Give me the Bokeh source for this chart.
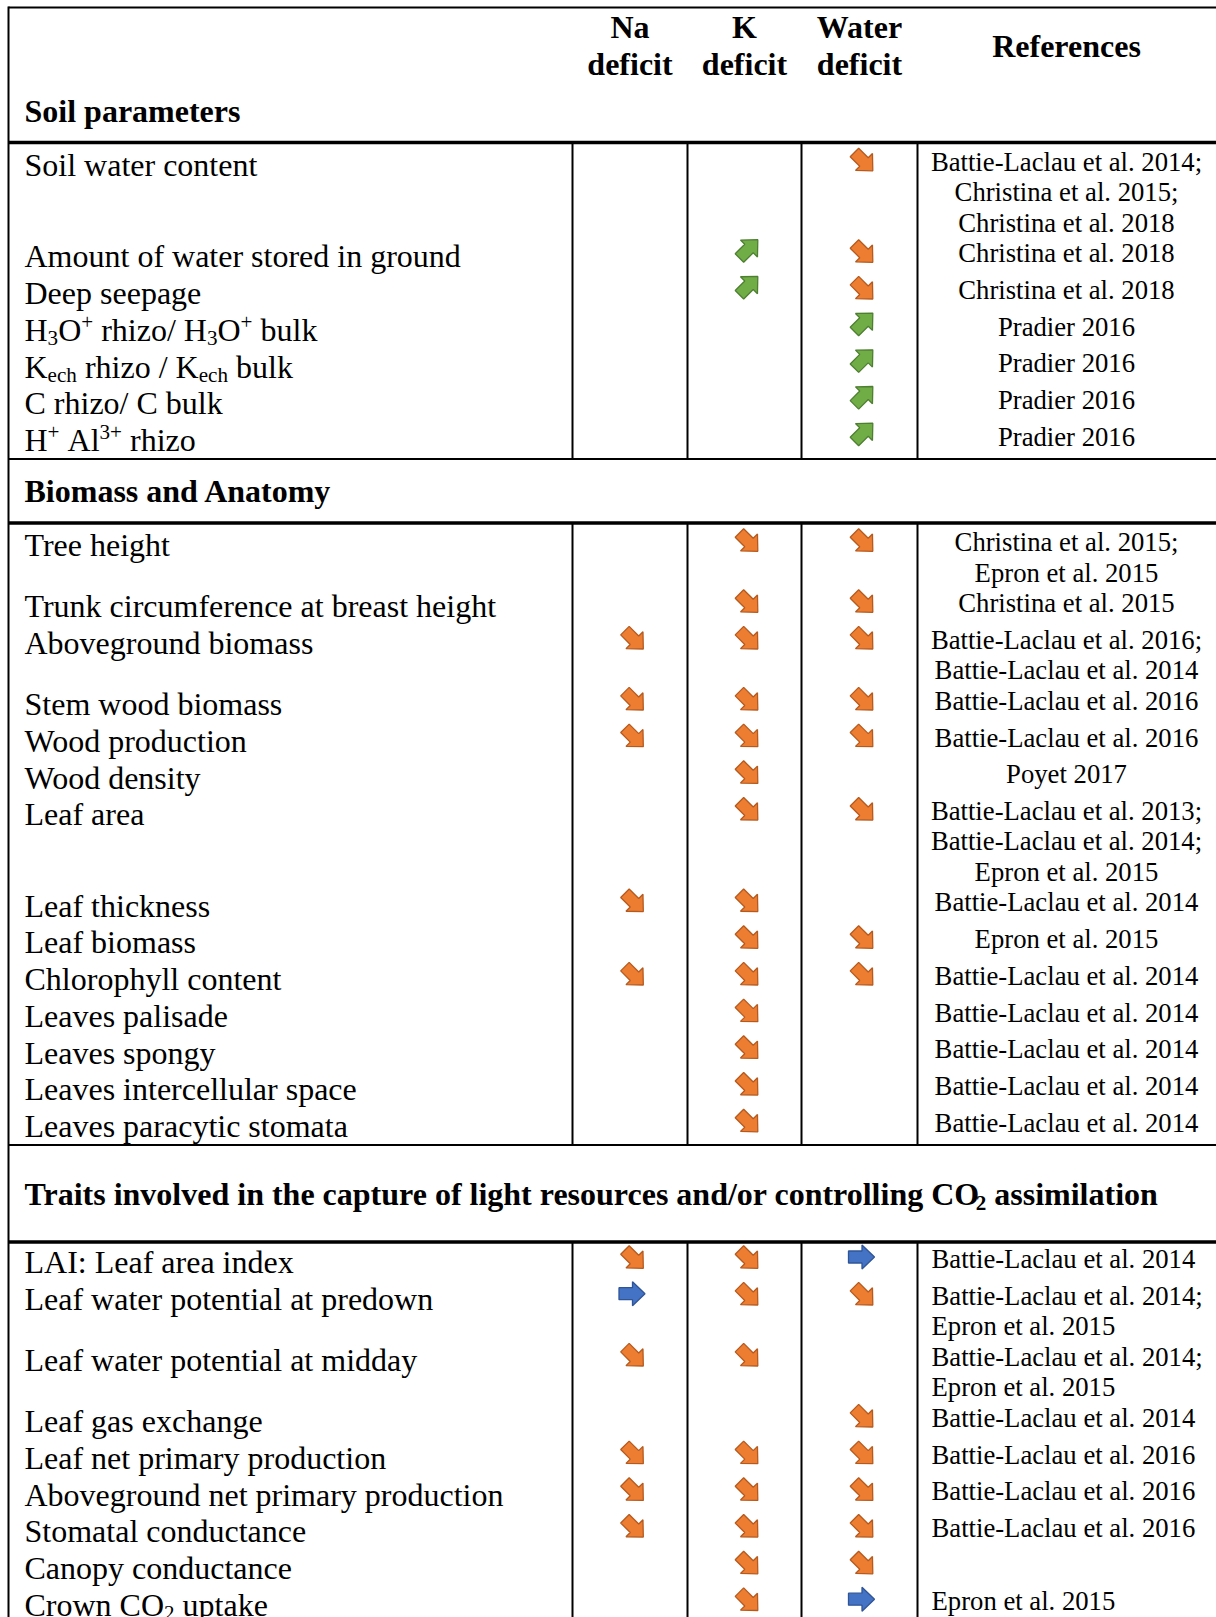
import math, re
from bokeh.plotting import figure
from bokeh.models import Range1d, ColumnDataSource
from bokeh.core.properties import value
from bokeh.embed import file_html
from bokeh.resources import INLINE

# ---------------- data ----------------
col_heads = ["Na", "K", "Water"]
col_head_sub = "deficit"
ref_head = "References"

section_titles = [
    "Soil parameters",
    "Biomass and Anatomy",
    "Traits involved in the capture of light resources and/or controlling CO_{2} assimilation",
]

soil_labels = ["Soil water content", "Amount of water stored in ground", "Deep seepage",
               "H_{3}O^{+} rhizo/ H_{3}O^{+} bulk", "K_{ech} rhizo / K_{ech} bulk",
               "C rhizo/ C bulk", "H^{+} Al^{3+} rhizo"]
soil_na = ["", "", "", "", "", "", ""]
soil_k = ["", "up", "up", "", "", "", ""]
soil_water = ["down", "down", "down", "up", "up", "up", "up"]
soil_refs = [["Battie-Laclau et al. 2014;", "Christina et al. 2015;", "Christina et al. 2018"],
             ["Christina et al. 2018"], ["Christina et al. 2018"],
             ["Pradier 2016"], ["Pradier 2016"], ["Pradier 2016"], ["Pradier 2016"]]

bio_labels = ["Tree height", "Trunk circumference at breast height", "Aboveground biomass",
              "Stem wood biomass", "Wood production", "Wood density", "Leaf area",
              "Leaf thickness", "Leaf biomass", "Chlorophyll content", "Leaves palisade",
              "Leaves spongy", "Leaves intercellular space", "Leaves paracytic stomata"]
bio_na = ["", "", "down", "down", "down", "", "", "down", "", "down", "", "", "", ""]
bio_k = ["down"] * 14
bio_water = ["down", "down", "down", "down", "down", "", "down", "", "down", "down", "", "", "", ""]
bio_refs = [["Christina et al. 2015;", "Epron et al. 2015"], ["Christina et al. 2015"],
            ["Battie-Laclau et al. 2016;", "Battie-Laclau et al. 2014"],
            ["Battie-Laclau et al. 2016"], ["Battie-Laclau et al. 2016"], ["Poyet 2017"],
            ["Battie-Laclau et al. 2013;", "Battie-Laclau et al. 2014;", "Epron et al. 2015"],
            ["Battie-Laclau et al. 2014"], ["Epron et al. 2015"], ["Battie-Laclau et al. 2014"],
            ["Battie-Laclau et al. 2014"], ["Battie-Laclau et al. 2014"],
            ["Battie-Laclau et al. 2014"], ["Battie-Laclau et al. 2014"]]

trait_labels = ["LAI: Leaf area index", "Leaf water potential at predown",
                "Leaf water potential at midday", "Leaf gas exchange",
                "Leaf net primary production", "Aboveground net primary production",
                "Stomatal conductance", "Canopy conductance", "Crown CO_{2} uptake"]
trait_na = ["down", "flat", "down", "", "down", "down", "down", "", ""]
trait_k = ["down", "down", "down", "", "down", "down", "down", "down", "down"]
trait_water = ["flat", "down", "", "down", "down", "down", "down", "down", "flat"]
trait_refs = [["Battie-Laclau et al. 2014"],
              ["Battie-Laclau et al. 2014;", "Epron et al. 2015"],
              ["Battie-Laclau et al. 2014;", "Epron et al. 2015"],
              ["Battie-Laclau et al. 2014"], ["Battie-Laclau et al. 2016"],
              ["Battie-Laclau et al. 2016"], ["Battie-Laclau et al. 2016"], [],
              ["Epron et al. 2015"]]

# ---------------- layout / style ----------------
W, H = 1216, 1617
FONT = "Liberation Serif"
FS_LABEL = 32
FS_REF = 26.7
FS_HEAD = 32
MID = 0.33           # visual centre above baseline, in em
LEFT = 8
TEXT_X = 24
COL_X = [572, 687, 801, 917]
RIGHT = W + 20
REF_CX = 1066
REF_LX = 931
TOP = 7
HEADER_BOTTOM = 142
ROW_H = 36.7
REF_LH = 30.5
FIRST_BASE = [33, 33, 31]
SEC_HEAD_H = [None, 64, 97]
SEC_TITLE_BASE = [None, 43, 60]
KERN = {False: 1.0, True: 0.991}

TR = {' ': 250, '+': 564, '/': 278, 'A': 722, 'B': 667, 'C': 667, 'H': 722, 'K': 722, 'O': 722,
      'a': 444, 'b': 500, 'c': 444, 'e': 444, 'h': 500, 'i': 278, 'k': 500, 'l': 278, 'o': 500,
      'r': 333, 'u': 500, 'z': 444, 'n': 500, 't': 278, 'w': 722, 'p': 500, 'g': 500, 'd': 500,
      'm': 778, 's': 389, 'y': 500, 'v': 500, 'f': 333}
TB = {' ': 250, '/': 278, 'C': 722, 'O': 778, 'T': 667, 'a': 500, 'c': 444, 'd': 556, 'e': 444,
      'f': 333, 'g': 500, 'h': 556, 'i': 278, 'l': 278, 'm': 833, 'n': 556, 'o': 500, 'p': 556,
      'r': 444, 's': 389, 't': 333, 'u': 556, 'v': 500, 'y': 500}
for d in "0123456789":
    TR[d] = 500
    TB[d] = 500


def text_width(s, size, bold):
    tab = TB if bold else TR
    return sum(tab.get(ch, 500) for ch in s) * size / 1000.0 * KERN[bold]


def rich_items(x0, baseline, s, size, bold):
    """Split 'a_{sub}b^{sup}' markup into positioned runs (x, centre-y, text, size)."""
    items = []
    x = x0
    for part in re.split(r"(_\{[^}]*\}|\^\{[^}]*\})", s):
        if not part:
            continue
        if part.startswith("_{"):
            t, fs, dy = part[2:-1], size * 0.66, size * 0.14
        elif part.startswith("^{"):
            t, fs, dy = part[2:-1], size * 0.66, -size * 0.36
        else:
            t, fs, dy = part, size, 0
        lead = len(t) - len(t.lstrip(" "))
        core = t.strip(" ")
        x += text_width(" " * lead, fs, bold)
        if core:
            items.append((x, baseline + dy - MID * fs, core, fs))
        x += text_width(t[lead:], fs, bold)
    return items


def arrow_poly(cx, cy, kind):
    L, hl, hw, sw = 26.0, 12.5, 12.0, 6.0
    pts = [(-L / 2, -sw), (L / 2 - hl, -sw), (L / 2 - hl, -hw), (L / 2, 0),
           (L / 2 - hl, hw), (L / 2 - hl, sw), (-L / 2, sw)]
    ang = {"down": 45, "up": -45, "flat": 0}[kind]
    a = math.radians(ang)
    xs = [px * math.cos(a) - py * math.sin(a) for px, py in pts]
    ys = [px * math.sin(a) + py * math.cos(a) for px, py in pts]
    ox = (max(xs) + min(xs)) / 2
    oy = (max(ys) + min(ys)) / 2
    return [cx + v - ox for v in xs], [cy + v - oy for v in ys]


ARROW_COL = {"down": ("#ED7D31", "#B55A1F"), "up": ("#70AD47", "#4E7F31"),
             "flat": ("#4472C4", "#2F5597")}

normal_left, normal_center, bold_left, bold_center = [], [], [], []
hlines = []  # (y, width)
vlines = []  # (x, y0, y1, width)
arrows = {"xs": [], "ys": [], "fill": [], "line": []}

# header block
hlines.append((TOP, 2))
for i, h in enumerate(col_heads):
    cx = (COL_X[i] + COL_X[i + 1]) / 2
    bold_center.append((cx, 37 - MID * FS_HEAD, h, FS_HEAD))
    bold_center.append((cx, 74 - MID * FS_HEAD, col_head_sub, FS_HEAD))
bold_center.append((REF_CX, 56 - MID * FS_HEAD, ref_head, FS_HEAD))
bold_left += rich_items(TEXT_X, 121, section_titles[0], FS_HEAD, True)
hlines.append((HEADER_BOTTOM, 3.5))

sections = [
    (soil_labels, soil_na, soil_k, soil_water, soil_refs, "center"),
    (bio_labels, bio_na, bio_k, bio_water, bio_refs, "center"),
    (trait_labels, trait_na, trait_k, trait_water, trait_refs, "left"),
]

line_y = HEADER_BOTTOM
for si, (labels, na, kk, wa, refs, align) in enumerate(sections):
    if si > 0:
        hlines.append((line_y, 2))
        bold_left += rich_items(TEXT_X, line_y + SEC_TITLE_BASE[si], section_titles[si],
                                FS_HEAD, True)
        line_y = line_y + SEC_HEAD_H[si]
        hlines.append((line_y, 3.5))
    sec_top = line_y
    base = line_y + FIRST_BASE[si]
    last = base
    for ri, lab in enumerate(labels):
        n = max(1, len(refs[ri]))
        normal_left.extend(rich_items(TEXT_X, base, lab, FS_LABEL, False))
        for li, r in enumerate(refs[ri]):
            yb = base - 5 + REF_LH * li - MID * FS_REF
            if align == "center":
                normal_center.append((REF_CX, yb, r, FS_REF))
            else:
                normal_left.append((REF_LX, yb, r, FS_REF))
        for ci, vals in enumerate((na, kk, wa)):
            kind = vals[ri]
            if kind:
                cx = (COL_X[ci] + COL_X[ci + 1]) / 2 + 2
                xs, ys = arrow_poly(cx, base - 16, kind)
                arrows["xs"].append(xs)
                arrows["ys"].append(ys)
                arrows["fill"].append(ARROW_COL[kind][0])
                arrows["line"].append(ARROW_COL[kind][1])
        last = base
        base += ROW_H if n == 1 else REF_LH * n
    line_y = last + 8.5
    sec_bottom = line_y if si < len(sections) - 1 else H + 20
    for cx in COL_X:
        vlines.append((cx, sec_top, sec_bottom, 2))

# ---------------- figure ----------------
p = figure(width=W, height=H, x_range=Range1d(0, W), y_range=Range1d(H, 0),
           output_backend="svg", toolbar_location=None, min_border=0,
           x_axis_location=None, y_axis_location=None)
p.grid.visible = False
p.outline_line_color = None
p.background_fill_color = "white"
p.border_fill_color = "white"

hs = ColumnDataSource(dict(x0=[LEFT] * len(hlines), x1=[RIGHT] * len(hlines),
                           y=[h[0] for h in hlines], w=[h[1] for h in hlines]))
p.segment(x0="x0", y0="y", x1="x1", y1="y", line_width="w", line_color="black", source=hs)
vs = ColumnDataSource(dict(x=[v[0] for v in vlines], y0=[v[1] for v in vlines],
                           y1=[v[2] for v in vlines], w=[v[3] for v in vlines]))
p.segment(x0="x", y0="y0", x1="x", y1="y1", line_width="w", line_color="black", source=vs)
p.segment(x0=[LEFT], y0=[TOP - 1], x1=[LEFT], y1=[H + 20], line_width=2, line_color="black")

p.patches(xs="xs", ys="ys", fill_color="fill", line_color="line", line_width=1.3,
          source=ColumnDataSource(arrows))


def add_text(items, bold, align):
    if not items:
        return
    src = ColumnDataSource(dict(x=[i[0] for i in items], y=[i[1] for i in items],
                                text=[i[2] for i in items],
                                size=["%.1fpx" % i[3] for i in items]))
    p.text(x="x", y="y", text="text", source=src, text_font=value(FONT),
           text_font_size="size", text_align=align, text_baseline="middle",
           text_color="black", text_font_style="bold" if bold else "normal")


add_text(normal_left, False, "left")
add_text(normal_center, False, "center")
add_text(bold_left, True, "left")
add_text(bold_center, True, "center")

open("out.html", "w").write(file_html(p, INLINE))
